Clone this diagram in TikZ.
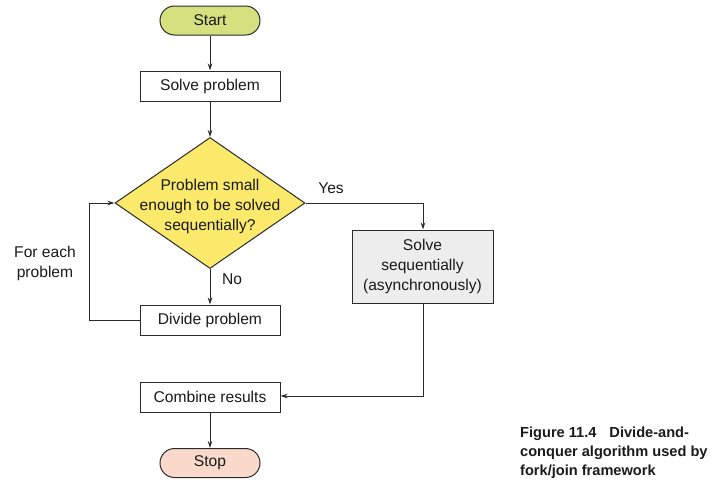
\documentclass[tikz,border=0pt]{standalone}
\usepackage{fontspec}
\setmainfont{Liberation Sans}
\usetikzlibrary{shapes.geometric,arrows.meta}
\definecolor{startgreen}{HTML}{D5E07F}
\definecolor{stoppink}{HTML}{F9D9CA}
\definecolor{decyellow}{HTML}{FAE96B}
\definecolor{boxgray}{HTML}{EDEDED}
\definecolor{linegray}{HTML}{2A2A2A}
\definecolor{txt}{HTML}{1A1A1A}
\tikzset{
  x=1pt,y=-1pt,
  every node/.style={font=\fontsize{15.6}{20}\selectfont, text=txt},
  procbox/.style={draw=linegray, line width=1pt, rectangle, minimum width=140pt, minimum height=30pt, inner sep=0pt, fill=white},
  terminal/.style={draw=linegray, line width=1pt, rectangle, rounded corners=14.5pt, minimum width=100pt, minimum height=29pt, inner sep=0pt},
  decision/.style={draw=linegray, line width=1pt, diamond, minimum width=190pt, minimum height=131pt, inner sep=0pt, fill=decyellow},
  conn/.style={draw=linegray, line width=0.9pt},
  arr/.style={conn, -{Stealth[length=7pt,width=4.5pt]}},
  lbl/.style={inner sep=0pt, align=center},
}
\begin{document}
\begin{tikzpicture}
\useasboundingbox (0,0) rectangle (720,493);
\node[terminal, fill=startgreen] (start) at (210,20.5) {Start};
\node[procbox] (solve) at (210,86) {Solve problem};
\node[decision] (dec) at (210,203) {};
\node[lbl] (dectext) at (210,206) {Problem small\\enough to be solved\\sequentially?};
\node[procbox, fill=boxgray, minimum width=141pt, minimum height=73pt, align=center] (seq) at (422.5,266.5) {Solve\\sequentially\\(asynchronously)};
\node[procbox] (divide) at (210,320) {Divide problem};
\node[procbox] (combine) at (210,397) {Combine results};
\node[terminal, fill=stoppink] (stop) at (210,463) {Stop};

\node[lbl] (yes) at (331,188) {Yes};
\node[lbl] (no) at (232,279) {No};
\node[lbl] (foreach) at (45,263) {For each\\problem};

\coordinate (loopA) at (89,320);
\coordinate (loopB) at (89,203);
\coordinate (yesA) at (423,203);
\coordinate (seqB) at (423,396);

\draw[arr] (start) -- (solve);
\draw[arr] (solve) -- (dec.north);
\draw[arr] (dec.south) -- (divide);
\draw[arr] (dec.east) -- (yesA) -- (seq.north -| yesA);
\draw[arr] (divide.west) -- (loopA) -- (loopB) -- (dec.west);
\draw[arr] (seq.south -| seqB) -- (seqB) -- (combine.east |- seqB);
\draw[arr] (combine) -- (stop);

\node[lbl, anchor=north west, align=left, font=\bfseries\fontsize{14.6}{19}\selectfont] (caption) at (520,427) {Figure 11.4\hspace{13pt}Divide-and-\\conquer algorithm used by\\fork/join framework};
\end{tikzpicture}
\end{document}
